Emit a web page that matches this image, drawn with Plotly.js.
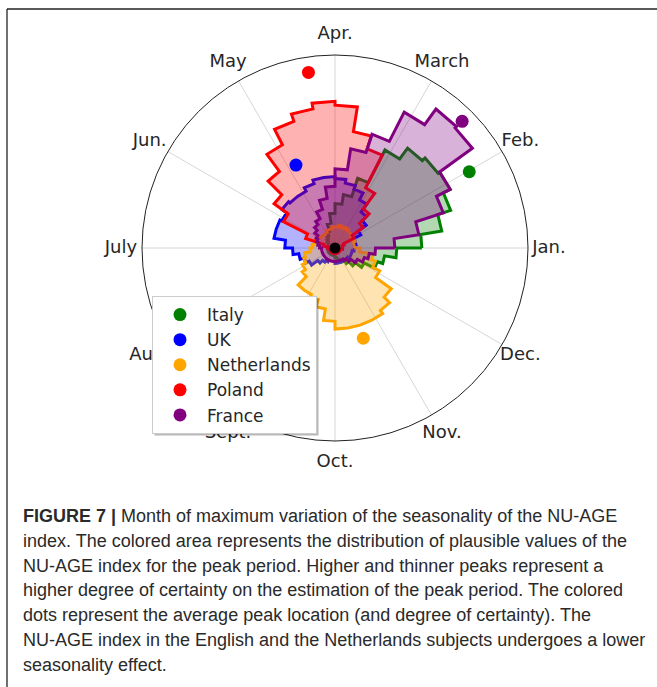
<!DOCTYPE html>
<html>
<head>
<meta charset="utf-8">
<script src="https://cdn.plot.ly/plotly-3.0.1.min.js"></script>
<style>
  html, body { margin: 0; padding: 0; background: #fff; }
  #chart { width: 657px; height: 687px; }
</style>
</head>
<body>
<div id="chart"></div>
<script>
// Month labels around the circle (January at 0°, counter-clockwise)
const monthLabels = ['Jan.', 'Feb.', 'March', 'Apr.', 'May', 'Jun.', 'July', 'Aug.', 'Sept.', 'Oct.', 'Nov.', 'Dec.'];
const monthAngles = [0, 30, 60, 90, 120, 150, 180, 210, 240, 270, 300, 330];

const countries = ['Italy', 'UK', 'Netherlands', 'Poland', 'France'];

// Histogram of plausible peak positions: 40 bins of 9° each, starting at 0°
const binWidthDeg = 9;
const histItaly = [0.45, 0.56, 0.63, 0.67, 0.66, 0.64, 0.57, 0.38, 0.28, 0.23,
                   0.18, 0.13, 0.09, 0.07, 0.06, 0.05, 0.04, 0.04, 0.04, 0.04,
                   0.04, 0.04, 0.04, 0.04, 0.04, 0.04, 0.04, 0.04, 0.04, 0.04,
                   0.05, 0.06, 0.07, 0.08, 0.10, 0.13, 0.17, 0.23, 0.26, 0.32];
const histUK = [0.10, 0.11, 0.11, 0.15, 0.20, 0.23, 0.28, 0.32, 0.34, 0.36,
                0.37, 0.37, 0.35, 0.33, 0.33, 0.34, 0.31, 0.32, 0.32, 0.26,
                0.22, 0.19, 0.17, 0.15, 0.11, 0.09, 0.08, 0.07, 0.07, 0.07,
                0.08, 0.08, 0.08, 0.08, 0.08, 0.08, 0.09, 0.09, 0.09, 0.10];
const histNetherlands = [0.10, 0.10, 0.11, 0.10, 0.11, 0.11, 0.12, 0.11, 0.12, 0.11,
                         0.11, 0.10, 0.10, 0.09, 0.09, 0.09, 0.10, 0.11, 0.11, 0.12,
                         0.13, 0.16, 0.17, 0.19, 0.21, 0.27, 0.27, 0.28, 0.32, 0.38,
                         0.42, 0.42, 0.42, 0.42, 0.40, 0.36, 0.26, 0.22, 0.20, 0.13];
const histPoland = [0.04, 0.04, 0.05, 0.11, 0.18, 0.25, 0.35, 0.54, 0.61, 0.74,
                    0.76, 0.73, 0.69, 0.60, 0.49, 0.39, 0.30, 0.16, 0.06, 0.04,
                    0.03, 0.03, 0.03, 0.03, 0.03, 0.03, 0.03, 0.03, 0.03, 0.03,
                    0.03, 0.03, 0.03, 0.03, 0.03, 0.03, 0.03, 0.03, 0.03, 0.04];
const histFrance = [0.31, 0.44, 0.59, 0.67, 0.88, 0.89, 0.79, 0.62, 0.52, 0.41,
                    0.32, 0.26, 0.21, 0.17, 0.15, 0.13, 0.11, 0.10, 0.09, 0.08,
                    0.07, 0.07, 0.07, 0.07, 0.07, 0.07, 0.07, 0.07, 0.07, 0.07,
                    0.07, 0.07, 0.07, 0.07, 0.08, 0.10, 0.13, 0.16, 0.18, 0.21];

// Average peak location (degrees) and degree of certainty (0..1)
const peakAngle = [29.6, 115.2, 287.4, 98.6, 44.9];
const peakCertainty = [0.80, 0.475, 0.49, 0.92, 0.93];

// Pooled average peak
const pooledAngle = [0];
const pooledCertainty = [0];

const lineColors = ['#008000', '#0000ff', '#ffa500', '#ff0000', '#800080'];
const fillColors = ['rgba(0,128,0,0.3)', 'rgba(0,0,255,0.3)', 'rgba(255,165,0,0.3)',
                    'rgba(255,0,0,0.3)', 'rgba(128,0,128,0.3)'];

const histograms = [histItaly, histUK, histNetherlands, histPoland, histFrance];

// Turn bin heights into a closed stair-step outline
function stepOutline(counts) {
  const r = [], theta = [];
  counts.forEach((c, k) => {
    r.push(c, c);
    theta.push(k * binWidthDeg, (k + 1) * binWidthDeg);
  });
  r.push(r[0]);
  theta.push(theta[0]);
  return { r, theta };
}

const traces = [];
histograms.forEach((h, i) => {
  const o = stepOutline(h);
  traces.push({
    type: 'scatterpolar',
    mode: 'lines',
    r: o.r,
    theta: o.theta,
    fill: 'toself',
    fillcolor: fillColors[i],
    line: { color: lineColors[i], width: 3 },
    showlegend: false,
    hoverinfo: 'skip'
  });
});

countries.forEach((name, i) => {
  traces.push({
    type: 'scatterpolar',
    mode: 'markers',
    name: name,
    r: [peakCertainty[i]],
    theta: [peakAngle[i]],
    marker: { color: lineColors[i], size: 13 },
    showlegend: true
  });
});

traces.push({
  type: 'scatterpolar',
  mode: 'markers',
  r: pooledCertainty,
  theta: pooledAngle,
  marker: { color: '#000000', size: 11 },
  showlegend: false
});

// Month names centred on a slightly larger, invisible ring around the plot
traces.push({
  type: 'scatterpolar',
  subplot: 'polar2',
  mode: 'text',
  r: monthAngles.map(() => 1),
  theta: monthAngles,
  text: monthLabels,
  textposition: 'middle center',
  textfont: { family: 'DejaVu Sans, sans-serif', size: 18, color: '#262626' },
  cliponaxis: false,
  showlegend: false,
  hoverinfo: 'skip'
});

const W = 657, H = 687;
const px = x => x / W;
const py = y => 1 - y / H;

// Plot centre and radii in pixels
const cx = 335, cy = 248, plotR = 193, labelR = 214;

// Caption below the chart
const captionLines = [
  '<b>FIGURE 7 |</b> Month of maximum variation of the seasonality of the NU-AGE',
  'index. The colored area represents the distribution of plausible values of the',
  'NU-AGE index for the peak period. Higher and thinner peaks represent a',
  'higher degree of certainty on the estimation of the peak period. The colored',
  'dots represent the average peak location (and degree of certainty). The',
  'NU-AGE index in the English and the Netherlands subjects undergoes a lower',
  'seasonality effect.'
];
const annotations = captionLines.map((t, i) => ({
  xref: 'paper', yref: 'paper',
  x: px(21), y: py(516 + i * 24.8),
  xanchor: 'left', yanchor: 'middle',
  text: t, showarrow: false, align: 'left',
  font: { family: 'Liberation Sans, Arial, sans-serif', size: 18, color: '#2a2a2a' }
}));

const hiddenRadial = { range: [0, 1], showgrid: false, showline: false, showticklabels: false, ticks: '' };

const layout = {
  width: W, height: H,
  margin: { l: 0, r: 0, t: 0, b: 0 },
  paper_bgcolor: '#ffffff',
  showlegend: true,
  polar: {
    domain: { x: [px(cx - plotR), px(cx + plotR)], y: [py(cy + plotR), py(cy - plotR)] },
    bgcolor: '#ffffff',
    angularaxis: {
      rotation: 0,
      direction: 'counterclockwise',
      tickmode: 'array',
      tickvals: monthAngles,
      showticklabels: false,
      ticks: '',
      showline: true, linecolor: '#222222', linewidth: 1,
      showgrid: true, gridcolor: '#d6d6d6', gridwidth: 1
    },
    radialaxis: hiddenRadial
  },
  polar2: {
    domain: { x: [px(cx - labelR), px(cx + labelR)], y: [py(cy + labelR), py(cy - labelR)] },
    bgcolor: 'rgba(0,0,0,0)',
    angularaxis: {
      rotation: 0, direction: 'counterclockwise',
      showticklabels: false, ticks: '', showline: false, showgrid: false
    },
    radialaxis: hiddenRadial
  },
  legend: {
    x: px(152), y: py(296), xanchor: 'left', yanchor: 'top',
    bgcolor: '#ffffff', bordercolor: '#cccccc', borderwidth: 1,
    itemwidth: 44,
    font: { family: 'DejaVu Sans, sans-serif', size: 17, color: '#262626' }
  },
  shapes: [
    { type: 'line', xref: 'paper', yref: 'paper', x0: px(7), x1: 1, y0: py(9), y1: py(9),
      line: { color: '#222222', width: 1.3 } },
    { type: 'line', xref: 'paper', yref: 'paper', x0: px(7), x1: px(7), y0: py(9), y1: 0,
      line: { color: '#222222', width: 1.3 } }
  ],
  annotations: annotations
};

Plotly.newPlot('chart', traces, layout, { displayModeBar: false, staticPlot: true }).then(gd => {
  // Soft drop shadow under the legend box, sized from the rendered legend
  const bg = gd.querySelector('.legend .bg');
  if (!bg) return;
  const box = bg.getBoundingClientRect();
  const host = gd.getBoundingClientRect();
  const x0 = box.left - host.left + 2, x1 = box.right - host.left + 2;
  const y0 = box.top - host.top + 2, y1 = box.bottom - host.top + 2;
  const shadow = {
    type: 'rect', xref: 'paper', yref: 'paper', layer: 'above',
    x0: px(x0), x1: px(x1), y0: py(y1), y1: py(y0),
    fillcolor: 'rgba(0,0,0,0.28)', line: { width: 0 }
  };
  Plotly.relayout(gd, { shapes: layout.shapes.concat([shadow]) });
});
</script>
</body>
</html>
